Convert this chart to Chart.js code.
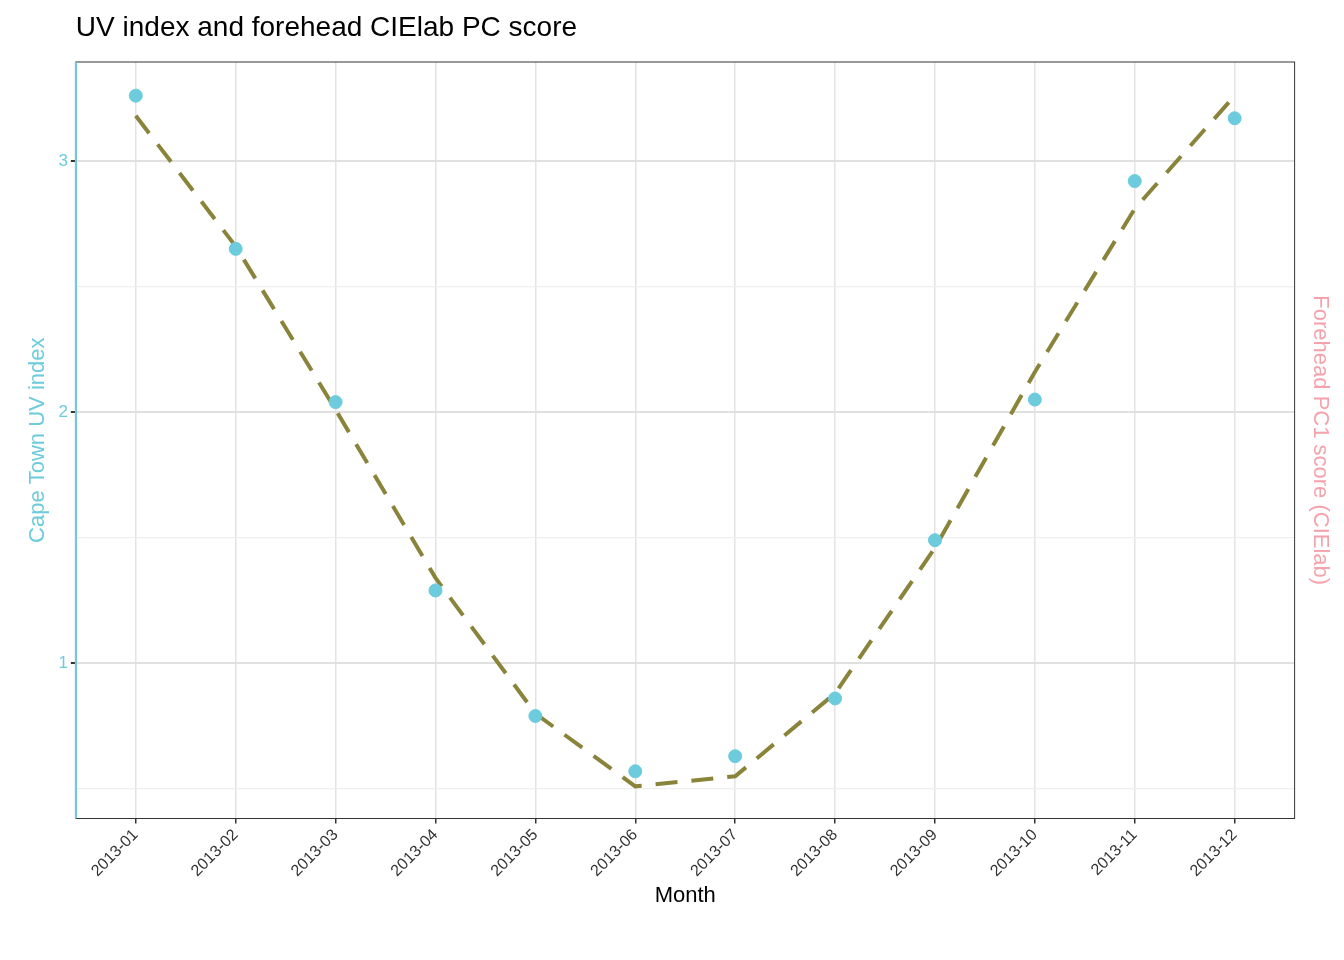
<!DOCTYPE html>
<html>
<head>
<meta charset="utf-8">
<script src="https://cdn.jsdelivr.net/npm/chart.js@4"></script>
<style>
  body { margin: 0; background: #fff; }
  #wrap { width: 1344px; height: 960px; }
</style>
</head>
<body>
<div id="wrap"><canvas id="c" width="1344" height="960"></canvas></div>
<script>
// months and values
const months = ['2013-01','2013-02','2013-03','2013-04','2013-05','2013-06',
                '2013-07','2013-08','2013-09','2013-10','2013-11','2013-12'];
const uvIndex = [3.26, 2.65, 2.04, 1.29, 0.79, 0.57, 0.63, 0.86, 1.49, 2.05, 2.92, 3.17];
const pcScore = [3.18, 2.66, 2.01, 1.34, 0.80, 0.51, 0.55, 0.88, 1.46, 2.16, 2.81, 3.26];

const cyan = '#6CCBDC';
const olive = '#8A843A';
const pink = '#F4A3AD';

const uvPoints = uvIndex.map((v, i) => ({x: i, y: v}));
const pcPoints = pcScore.map((v, i) => ({x: i, y: v}));

// panel border + title drawn by hand
const frame = {
  id: 'frame',
  afterDraw(chart) {
    const {ctx, chartArea: a} = chart;
    ctx.save();
    ctx.strokeStyle = '#333';
    ctx.lineWidth = 1;
    ctx.strokeRect(a.left, a.top, a.right - a.left, a.bottom - a.top);
    ctx.strokeStyle = cyan;
    ctx.lineWidth = 2;
    ctx.beginPath();
    ctx.moveTo(a.left, a.top); ctx.lineTo(a.left, a.bottom);
    ctx.stroke();
    ctx.fillStyle = '#000';
    ctx.font = '28px Arial, "Liberation Sans", sans-serif';
    ctx.textBaseline = 'middle';
    ctx.fillText('UV index and forehead CIElab PC score', a.left, 28);
    ctx.restore();
  }
};

new Chart(document.getElementById('c'), {
  type: 'scatter',
  data: {
    datasets: [
      {
        label: 'PC score',
        data: pcPoints,
        showLine: true,
        borderColor: olive,
        borderWidth: 4,
        borderDash: [22, 14],
        pointRadius: 0,
        tension: 0,
        order: 2
      },
      {
        label: 'UV index',
        data: uvPoints,
        backgroundColor: cyan,
        borderColor: cyan,
        pointRadius: 6.5,
        order: 1
      }
    ]
  },
  options: {
    responsive: false,
    animation: false,
    layout: { padding: { top: 62, right: 7, left: 21, bottom: 47 } },
    plugins: { legend: { display: false }, tooltip: { enabled: false } },
    scales: {
      x: {
        type: 'linear',
        min: -0.6, max: 11.6,
        afterBuildTicks(s) { s.ticks = months.map((m, i) => ({value: i})); },
        ticks: {
          callback: v => months[v],
          color: '#333',
          font: { size: 16, family: 'Arial, "Liberation Sans", sans-serif' },
          minRotation: 45, maxRotation: 45,
          padding: 2
        },
        grid: { color: '#e3e3e3', lineWidth: 1.5, drawTicks: true, tickLength: 5, tickColor: '#333' },
        border: { display: false },
        title: { display: true, text: 'Month', color: '#000',
                 font: { size: 22, family: 'Arial, "Liberation Sans", sans-serif' }, padding: { top: 0 } }
      },
      y: {
        position: 'left',
        min: 0.382, max: 3.394,
        afterBuildTicks(s) {
          s.ticks = [0.5, 1, 1.5, 2, 2.5, 3].map(v => ({value: v}));
        },
        ticks: {
          callback: v => Number.isInteger(v) ? String(v) : '',
          color: cyan,
          font: { size: 17, family: 'Arial, "Liberation Sans", sans-serif' }
        },
        grid: {
          color: c => Number.isInteger(c.tick.value) ? '#e0e0e0' : '#efefef',
          lineWidth: c => Number.isInteger(c.tick.value) ? 2 : 1.2,
          tickLength: 5,
          tickColor: c => Number.isInteger(c.tick.value) ? '#333' : 'rgba(0,0,0,0)'
        },
        border: { display: false },
        title: { display: true, text: 'Cape Town UV index', color: cyan,
                 font: { size: 22, family: 'Arial, "Liberation Sans", sans-serif' } }
      },
      y2: {
        position: 'right',
        min: 0.382, max: 3.394,
        ticks: { display: false },
        grid: { display: false },
        border: { display: false },
        title: { display: true, text: 'Forehead PC1 score (CIElab)', color: pink,
                 font: { size: 22, family: 'Arial, "Liberation Sans", sans-serif' } }
      }
    }
  },
  plugins: [frame]
});
</script>
</body>
</html>
